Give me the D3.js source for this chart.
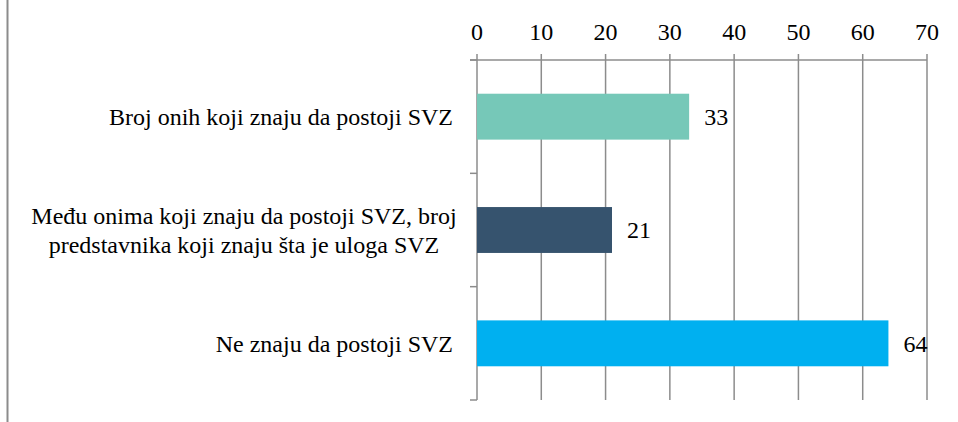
<!DOCTYPE html>
<html>
<head>
<meta charset="utf-8">
<script src="https://cdn.jsdelivr.net/npm/d3@7"></script>
<style>
  html, body { margin: 0; padding: 0; background: #fff; }
</style>
</head>
<body>
<div id="chart"></div>
<script>
// chart data
const categories = [
    ["Broj onih koji znaju da postoji SVZ"],
    ["Među onima koji znaju da postoji SVZ, broj", "predstavnika koji znaju šta je uloga SVZ"],
    ["Ne znaju da postoji SVZ"]
];
const values = [33, 21, 64];
const barColors = ["#76c8b8", "#36536e", "#00b0f0"];
const tickValues = [0, 10, 20, 30, 40, 50, 60, 70];

const width = 958, height = 422;
const gridColor = "#8c8c8c";
const fontFamily = "'Liberation Serif', 'DejaVu Serif', serif";
const fontSize = 24;

const svg = d3.select("#chart").append("svg")
    .attr("width", width)
    .attr("height", height)
    .attr("font-family", fontFamily)
    .attr("font-size", fontSize);

// frame line on the far left
svg.append("line")
    .attr("x1", 7.5).attr("x2", 7.5)
    .attr("y1", 0).attr("y2", height)
    .attr("stroke", gridColor)
    .attr("stroke-width", 2);

const x = d3.scaleLinear()
    .domain([0, 70])
    .range([477, 927]);

const keys = categories.map((c, i) => i);
const y = d3.scaleBand()
    .domain(keys)
    .range([60, 400])
    .paddingInner(0.595)
    .paddingOuter(0.2975);

const plotTop = y.range()[0], plotBottom = y.range()[1];

// vertical gridlines with ticks above the axis
svg.append("g")
    .selectAll("line")
    .data(tickValues)
    .join("line")
    .attr("x1", d => x(d)).attr("x2", d => x(d))
    .attr("y1", plotTop - 6).attr("y2", plotBottom)
    .attr("stroke", gridColor)
    .attr("stroke-width", 1.5);

// top axis line
svg.append("line")
    .attr("x1", x(0) - 7).attr("x2", x(70))
    .attr("y1", plotTop).attr("y2", plotTop)
    .attr("stroke", gridColor)
    .attr("stroke-width", 1.5);

// tick labels
svg.append("g")
    .selectAll("text")
    .data(tickValues)
    .join("text")
    .attr("x", d => x(d))
    .attr("y", plotTop - 20)
    .attr("text-anchor", "middle")
    .text(d => d);

// category separators on the left axis
const step = y.step();
const bounds = d3.range(keys.length + 1).map(i => plotTop + i * step);
svg.append("g")
    .selectAll("line")
    .data(bounds)
    .join("line")
    .attr("x1", x(0) - 7).attr("x2", x(0))
    .attr("y1", d => d).attr("y2", d => d)
    .attr("stroke", gridColor)
    .attr("stroke-width", 1.5);

// bars
svg.append("g")
    .selectAll("rect")
    .data(values)
    .join("rect")
    .attr("x", x(0))
    .attr("y", (d, i) => y(i))
    .attr("width", d => x(d) - x(0))
    .attr("height", y.bandwidth())
    .attr("fill", (d, i) => barColors[i]);

// value labels
svg.append("g")
    .selectAll("text")
    .data(values)
    .join("text")
    .attr("x", d => x(d) + 15)
    .attr("y", (d, i) => y(i) + y.bandwidth() / 2)
    .attr("dy", "0.35em")
    .text(d => d);

// category labels
const labelG = svg.append("g");
categories.forEach((lines, i) => {
    const cy = y(i) + y.bandwidth() / 2;
    const lineH = 29;
    const multi = lines.length > 1;
    const t = labelG.append("text")
        .attr("text-anchor", multi ? "middle" : "end");
    lines.forEach((s, j) => {
        t.append("tspan")
            .attr("x", multi ? 244 : 453)
            .attr("y", cy + (j - (lines.length - 1) / 2) * lineH)
            .attr("dy", "0.35em")
            .text(s);
    });
});
</script>
</body>
</html>
